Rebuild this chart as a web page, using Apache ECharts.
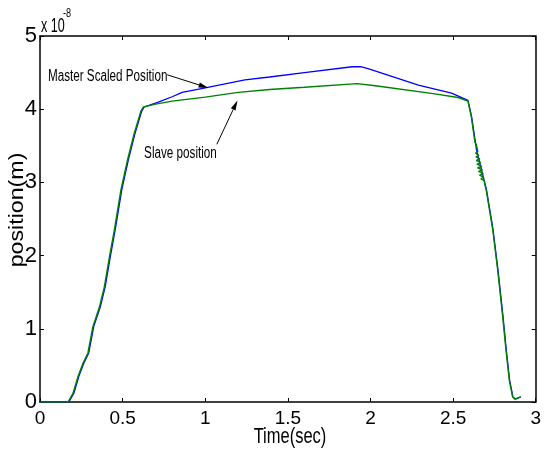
<!DOCTYPE html>
<html>
<head>
<meta charset="utf-8">
<script src="https://cdn.jsdelivr.net/npm/echarts@6/dist/echarts.min.js"></script>
<style>
  html, body { margin: 0; padding: 0; background: #fff; }
  #chart { width: 544px; height: 458px; }
</style>
</head>
<body>
<div id="chart"></div>
<script>
// Position values are in units of 1e-8 m (shown by the "x 10^-8" exponent label).
const xTicks = [0, 0.5, 1, 1.5, 2, 2.5, 3];
const yTicks = [0, 1, 2, 3, 4, 5];

const masterTime = [0, 0.175, 0.205, 0.235, 0.265, 0.295, 0.325, 0.365, 0.395, 0.425,
  0.455, 0.495, 0.535, 0.575, 0.615, 0.63, 0.72, 0.80, 0.86, 1.00,
  1.24, 1.39, 1.60, 1.89, 1.94, 1.99, 2.29, 2.49, 2.59, 2.60,
  2.612, 2.642, 2.702, 2.742, 2.772, 2.802, 2.822, 2.842, 2.862, 2.877, 2.91];
const masterPos = [0, 0, 0.12, 0.35, 0.53, 0.67, 1.03, 1.30, 1.58, 1.98,
  2.35, 2.90, 3.31, 3.67, 3.97, 4.03, 4.10, 4.17, 4.23, 4.29,
  4.40, 4.44, 4.50, 4.58, 4.58, 4.55, 4.33, 4.22, 4.12, 4.10,
  3.90, 3.44, 2.90, 2.35, 1.80, 1.17, 0.71, 0.30, 0.07, 0.04, 0.07];

// Slave trace, including the oscillation right after the descent starts
const slaveTime = [0, 0.17, 0.2, 0.23, 0.26, 0.29, 0.32, 0.36, 0.39, 0.42,
  0.45, 0.49, 0.53, 0.57, 0.61, 0.625, 0.70, 0.80, 1.00, 1.20,
  1.39, 1.60, 1.92, 2.03, 2.39, 2.53, 2.59, 2.598, 2.61, 2.632,
  2.640, 2.633, 2.645, 2.634, 2.650, 2.636, 2.655, 2.638, 2.662, 2.640,
  2.668, 2.644, 2.674, 2.648, 2.678, 2.654, 2.683, 2.660, 2.686, 2.668,
  2.690, 2.690, 2.70, 2.74, 2.77, 2.80, 2.82, 2.84, 2.86, 2.872, 2.91];
const slavePos = [0, 0, 0.12, 0.35, 0.53, 0.67, 1.03, 1.30, 1.58, 1.98,
  2.35, 2.90, 3.31, 3.67, 3.97, 4.03, 4.07, 4.11, 4.165, 4.23,
  4.27, 4.30, 4.35, 4.32, 4.21, 4.16, 4.11, 4.10, 3.90, 3.55,
  3.52, 3.50, 3.47, 3.45, 3.42, 3.40, 3.37, 3.35, 3.32, 3.30,
  3.27, 3.25, 3.22, 3.20, 3.17, 3.15, 3.12, 3.10, 3.07, 3.05,
  3.02, 2.99, 2.90, 2.35, 1.80, 1.17, 0.71, 0.30, 0.07, 0.04, 0.07];

// Annotation anchors in data coordinates [time, position]
const masterLabelAt = [0.048, 4.45];
const masterArrow = [[0.77, 4.47], [1.02, 4.29]];
const slaveLabelAt = [0.63, 3.39];
const slaveArrow = [[1.07, 3.52], [1.195, 4.12]];

const pairs = (xs, ys) => xs.map((x, i) => [x, ys[i]]);
const FONT = '"Liberation Sans", Arial, sans-serif';
const NARROW = '"Liberation Sans Narrow", "Liberation Sans", Arial, sans-serif';

const axisCommon = {
  type: 'value',
  axisLine: { show: true, onZero: false, lineStyle: { color: '#000', width: 1.5 } },
  axisTick: { show: true, inside: true, length: 4, lineStyle: { color: '#000', width: 1 } },
  splitLine: { show: false }
};

const chart = echarts.init(document.getElementById('chart'), null, { renderer: 'canvas' });

chart.setOption({
  animation: false,
  backgroundColor: '#fff',
  grid: { left: 40, right: 4, top: 36, bottom: 56 },
  xAxis: [
    Object.assign({}, axisCommon, {
      position: 'bottom', min: xTicks[0], max: xTicks[xTicks.length - 1], interval: 0.5,
      axisLabel: { color: '#000', fontSize: 19, fontFamily: NARROW, margin: 7 }
    }),
    Object.assign({}, axisCommon, {
      position: 'top', min: xTicks[0], max: xTicks[xTicks.length - 1], interval: 0.5,
      axisLabel: { show: false }
    })
  ],
  yAxis: [
    Object.assign({}, axisCommon, {
      position: 'left', min: yTicks[0], max: yTicks[yTicks.length - 1], interval: 1,
      axisLabel: { color: '#000', fontSize: 22, fontFamily: NARROW, margin: 3 }
    }),
    Object.assign({}, axisCommon, {
      position: 'right', min: yTicks[0], max: yTicks[yTicks.length - 1], interval: 1,
      axisLabel: { show: false }
    })
  ],
  series: [
    {
      name: 'Master Scaled Position', type: 'line', data: pairs(masterTime, masterPos),
      showSymbol: false, lineStyle: { color: '#0000ff', width: 1.3 }, itemStyle: { color: '#0000ff' }
    },
    {
      name: 'Slave position', type: 'line', data: pairs(slaveTime, slavePos),
      showSymbol: false, lineStyle: { color: '#008000', width: 1.4 }, itemStyle: { color: '#008000' }
    }
  ]
});

const px = (p) => chart.convertToPixel({ xAxisIndex: 0, yAxisIndex: 0 }, p);

// Annotation arrow: a thin shaft with a narrow filled head at the tip
function arrow(from, to) {
  const a = px(from), b = px(to);
  const dx = b[0] - a[0], dy = b[1] - a[1];
  const len = Math.hypot(dx, dy), ux = dx / len, uy = dy / len;
  const head = 10, half = 2.6;
  const bx = b[0] - ux * head, by = b[1] - uy * head;
  return [
    { type: 'line', z: 10, shape: { x1: a[0], y1: a[1], x2: bx, y2: by }, style: { stroke: '#000', lineWidth: 1 } },
    { type: 'polygon', z: 10, shape: { points: [[b[0], b[1]], [bx - uy * half, by + ux * half], [bx + uy * half, by - ux * half]] },
      style: { fill: '#000' } }
  ];
}

const mPt = px(masterLabelAt);
const sPt = px(slaveLabelAt);

chart.setOption({
  graphic: [
    { type: 'text', x: mPt[0], y: mPt[1], scaleX: 0.73, z: 10,
      style: { text: 'Master Scaled Position', font: '16px ' + FONT, fill: '#000', textAlign: 'left', textVerticalAlign: 'middle' } },
    { type: 'text', x: sPt[0], y: sPt[1], scaleX: 0.73, z: 10,
      style: { text: 'Slave position', font: '16px ' + FONT, fill: '#000', textAlign: 'left', textVerticalAlign: 'middle' } },
    { type: 'text', x: 290, y: 437, scaleX: 0.75, z: 10,
      style: { text: 'Time(sec)', font: '22px ' + FONT, fill: '#000', textAlign: 'center', textVerticalAlign: 'middle' } },
    { type: 'text', x: 17, y: 210, rotation: Math.PI / 2, scaleX: 1.16, z: 10,
      style: { text: 'position(m)', font: '20px ' + FONT, fill: '#000', textAlign: 'center', textVerticalAlign: 'middle' } },
    { type: 'text', x: 41, y: 26, scaleX: 0.6, z: 10,
      style: { text: 'x 10', font: '21px ' + FONT, fill: '#000', textAlign: 'left', textVerticalAlign: 'middle' } },
    { type: 'text', x: 63, y: 13, scaleX: 0.7, z: 10,
      style: { text: '-8', font: '13px ' + FONT, fill: '#000', textAlign: 'left', textVerticalAlign: 'middle' } }
  ].concat(arrow(masterArrow[0], masterArrow[1]), arrow(slaveArrow[0], slaveArrow[1]))
});
</script>
</body>
</html>
